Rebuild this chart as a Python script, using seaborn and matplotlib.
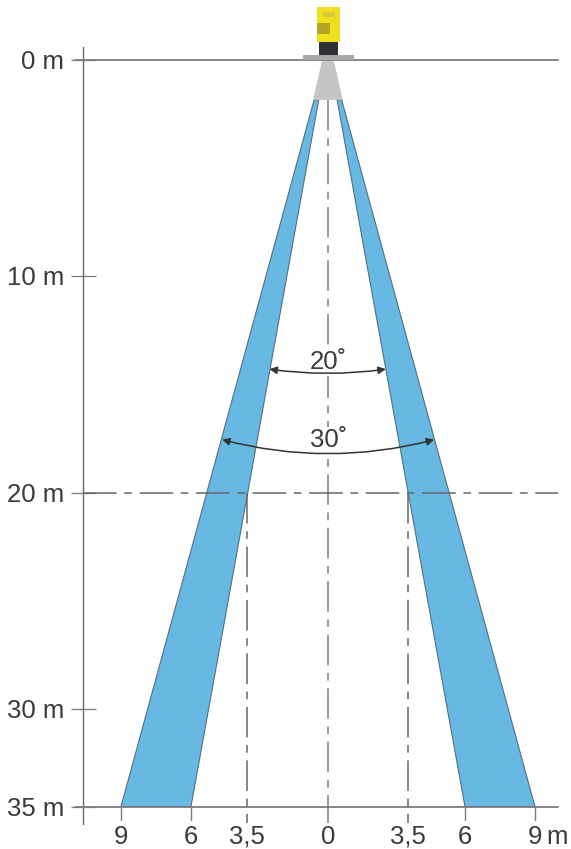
import numpy as np
import matplotlib
matplotlib.use("Agg")
import matplotlib.pyplot as plt
from matplotlib.patches import Polygon
import seaborn as sns

# --- values (metres) ---
depth_ticks = [0, 10, 20, 30, 35]
depth_labels = ["0 m", "10 m", "20 m", "30 m", "35 m"]
width_ticks = [-9, -6, -3.5, 0, 3.5, 6, 9]
width_labels = ["9", "6", "3,5", "0", "3,5", "6", "9"]
beam_top = 1.85
beam_end = 35
outer_top = 0.6
inner_top = 0.4
inner_end = 6
outer_end = 9
reference_depth = 20
reference_width = 3.5

# the drawing is not quite to scale: scale anchors (metres -> drawing units)
x_m = [-12, -9, -6, -3.5, 0, 3.5, 6, 9, 12]
x_u = [-276, -207, -137, -81, 0, 80, 137, 207, 276]
y_m = [-3, 0, 10, 20, 30, 35, 38]
y_u = [-65, 0, 216, 433, 649, 747, 812]

sns.set_theme(style="white")
plt.rcParams["font.family"] = ["Liberation Sans", "DejaVu Sans"]

W, H = 571, 849
fig = plt.figure(figsize=(W / 100, H / 100), dpi=100)
ax = fig.add_axes([83 / W, 1 - 824 / H, (558 - 83) / W, (824 - 47) / H])
ax.set_xscale("function", functions=(lambda v: np.interp(v, x_m, x_u), lambda v: np.interp(v, x_u, x_m)))
ax.set_yscale("function", functions=(lambda v: np.interp(v, y_m, y_u), lambda v: np.interp(v, y_u, y_m)))
ax.set_xlim(-10.65, 10.0)
ax.set_ylim(35.8, -0.6)

LINE = "#7d7d7d"
TEXT = "#3a3a3a"
BLUE = "#67b8e3"
EDGE = "#55707f"
FS = 18.5

for s in ["top", "right", "bottom"]:
    ax.spines[s].set_visible(False)
ax.spines["left"].set_color("#6a6a6a")
ax.spines["left"].set_linewidth(1.0)

ax.set_yticks(depth_ticks, depth_labels)
ax.tick_params(axis="y", direction="inout", length=18, width=0.9, color=LINE, pad=4.5,
               labelsize=FS, labelcolor=TEXT, left=True)
ax.set_xticks(width_ticks, width_labels)
ax.tick_params(axis="x", length=0, pad=0.5, labelsize=FS, labelcolor=TEXT, bottom=False)
ax.minorticks_off()
ax.annotate("m", xy=(9, 35.8), xycoords="data", xytext=(8.5, -0.5), textcoords="offset points",
            ha="left", va="top", fontsize=FS, color=TEXT, annotation_clip=False)

# beams
for sgn in (-1, 1):
    ax.add_patch(Polygon([(sgn * outer_top, beam_top), (sgn * inner_top, beam_top),
                          (sgn * inner_end, beam_end), (sgn * outer_end, beam_end)],
                         closed=True, facecolor=BLUE, edgecolor=EDGE, linewidth=0.8, zorder=2))

# horizontal lines
full = [-11, 10]
sns.lineplot(x=full, y=[0, 0], ax=ax, color=LINE, lw=1.3, zorder=3, clip_on=False, errorbar=None, sort=False)
sns.lineplot(x=full, y=[35, 35], ax=ax, color=LINE, lw=1.3, zorder=3, clip_on=False, errorbar=None, sort=False)
ax.plot([-10.65, 10], [reference_depth] * 2, color="#666666", lw=1.1, zorder=4,
        linestyle=(0, (22, 5, 5, 5)))

# vertical centre line and reference drops
ax.plot([0, 0], [beam_top, 35.75], color=LINE, lw=1.1, zorder=1, linestyle=(0, (20, 5, 5, 5)))
for sgn in (-1, 1):
    ax.plot([sgn * reference_width] * 2, [reference_depth, 35.75], color="#666666", lw=1.1,
            zorder=3, linestyle=(0, (20, 5, 5, 5)))
    for w in (inner_end, outer_end):
        ax.plot([sgn * w] * 2, [35, 35.6], color=LINE, lw=1.0, zorder=3)

# sensor head
def box(x0, x1, y0, y1, color, z=6):
    ax.add_patch(Polygon([(x0, y0), (x1, y0), (x1, y1), (x0, y1)], closed=True, facecolor=color,
                         edgecolor="none", zorder=z, clip_on=False))

ax.add_patch(Polygon([(-0.26, 0.05), (0.26, 0.05), (0.65, beam_top), (-0.65, beam_top)], closed=True,
                     facecolor="#c4c5c6", edgecolor="none", zorder=5))
box(-0.48, 0.52, -2.45, -0.85, "#f2de1f")
box(-0.48, 0.1, -1.7, -1.2, "#b3a526", 7)
box(-0.2, 0.3, -2.2, -2.0, "#d8c93a", 7)
box(-0.4, 0.45, -0.85, -0.2, "#2f3134")
box(-1.1, 1.15, -0.22, 0.02, "#a8a9ab")

# angle arcs
def arc(depth_end, x_left, x_right, rad):
    ax.annotate("", xy=(x_right, depth_end), xytext=(x_left, depth_end),
                arrowprops=dict(arrowstyle="<|-|>", color="#333333", lw=1.1, mutation_scale=11,
                                shrinkA=0, shrinkB=0, connectionstyle=f"arc3,rad={rad}"), zorder=8)

arc(14.3, -2.53, 2.53, 0.07)
arc(17.55, -4.61, 4.65, 0.13)
ax.text(0.03, 13.98, "20˚", ha="center", va="center", fontsize=FS, color=TEXT, zorder=7,
        bbox=dict(facecolor="white", edgecolor="none", pad=1.0))
ax.text(0.03, 17.58, "30˚", ha="center", va="center", fontsize=FS, color=TEXT, zorder=7,
        bbox=dict(facecolor="white", edgecolor="none", pad=1.0))

fig.savefig("out.png", dpi=100)
